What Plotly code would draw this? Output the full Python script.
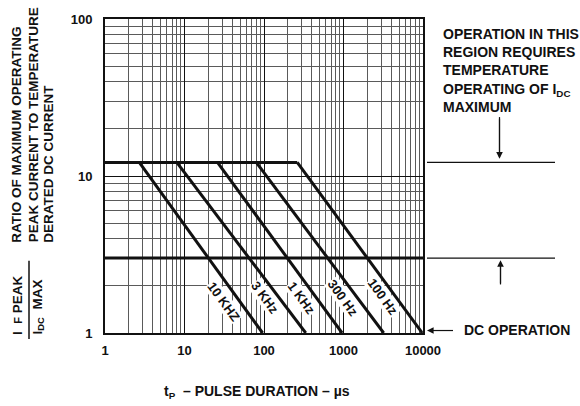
import numpy as np
import plotly.graph_objects as go

# ---------------- data ----------------
x_tick_vals = [1, 10, 100, 1000, 10000]
x_tick_text = ["1", "10", "100", "1000", "10000"]
y_tick_vals = [1, 10, 100]
y_tick_text = ["1", "10", "100"]

freq_labels = ["10 KHZ", "3 KHz", "1 KHz", "300 Hz", "100 Hz"]
curve_start_tp = [2.7, 8.0, 26, 80, 262]      # µs, where each curve leaves the peak limit
curve_end_tp = [96, 335, 960, 3200, 9800]     # µs, where each curve reaches ratio 1
peak_ratio_limit = 12.2
dc_ratio_limit = 3.0
curve_end_ratio = 1.0
tp_min = 1
tp_max = 10000

# label anchor points along each curve (data units)
label_tp = [30.8, 103, 298, 995, 3170]
label_ratio = [1.58, 1.69, 1.66, 1.66, 1.69]

# ---------------- layout helpers ----------------
L, R, T, B = 105, 423, 16, 333
W, H = 580, 406


def px_x(p):
    return (p - L) / (R - L)


def px_y(p):
    return (B - p) / (B - T)


FONT = "Liberation Sans, Arial, Helvetica, sans-serif"
BLACK = "#111111"

fig = go.Figure()

# plateau (peak limit)
fig.add_trace(go.Scatter(x=[tp_min, curve_start_tp[-1]], y=[peak_ratio_limit, peak_ratio_limit],
                         mode="lines", line=dict(color=BLACK, width=3), hoverinfo="skip"))
# DC derating limit
fig.add_trace(go.Scatter(x=[tp_min, tp_max], y=[dc_ratio_limit, dc_ratio_limit],
                         mode="lines", line=dict(color=BLACK, width=3), hoverinfo="skip"))
# frequency curves
for name, xs, xe in zip(freq_labels, curve_start_tp, curve_end_tp):
    fig.add_trace(go.Scatter(x=[xs, xe], y=[peak_ratio_limit, curve_end_ratio], name=name,
                             mode="lines", line=dict(color=BLACK, width=3), hoverinfo="skip"))

minor_x = [m * 10 ** d for d in range(4) for m in range(2, 10)]
minor_y = [m * 10 ** d for d in range(2) for m in range(2, 10)]

annotations = []
# curve labels
for name, tx, ty in zip(freq_labels, label_tp, label_ratio):
    annotations.append(dict(x=np.log10(tx), y=np.log10(ty), xref="x", yref="y", text=name,
                            showarrow=False, textangle=54, bgcolor="white", borderpad=0,
                            font=dict(family=FONT, size=13, color=BLACK, weight="bold")))

tfont = dict(family=FONT, size=14, color=BLACK, weight="bold")
yfont = dict(family=FONT, size=13.5, color=BLACK, weight="bold")

# y-axis title (three rotated lines)
for txt, cx in [("RATIO OF MAXIMUM OPERATING", 17), ("PEAK CURRENT TO TEMPERATURE", 33),
                ("DERATED DC CURRENT", 49)]:
    annotations.append(dict(x=px_x(cx), y=px_y(244), xref="paper", yref="paper", text=txt,
                            showarrow=False, textangle=-90, xanchor="center", yanchor="bottom",
                            font=yfont))
# fraction
annotations.append(dict(x=px_x(18), y=px_y(337), xref="paper", yref="paper",
                        text="I&nbsp;&nbsp;<span style='font-size:11px'>F</span> PEAK",
                        showarrow=False, textangle=-90,
                        xanchor="center", yanchor="bottom", font=yfont))
annotations.append(dict(x=px_x(38), y=px_y(337), xref="paper", yref="paper",
                        text="I<sub>DC</sub>&nbsp;&nbsp;MAX", showarrow=False, textangle=-90,
                        xanchor="center", yanchor="bottom", font=yfont))

# x-axis title
annotations.append(dict(x=px_x(257), y=px_y(393), xref="paper", yref="paper",
                        text="t<sub>P</sub>  – PULSE DURATION – µs", showarrow=False,
                        xanchor="center", yanchor="middle", font=tfont))

# right-side notes
annotations.append(dict(x=px_x(441), y=px_y(21), xref="paper", yref="paper", align="left",
                        text="OPERATION IN THIS<br>REGION REQUIRES<br>TEMPERATURE<br>"
                             "OPERATING OF I<sub>DC</sub><br>MAXIMUM",
                        showarrow=False, xanchor="left", yanchor="top", font=tfont))
annotations.append(dict(x=px_x(462), y=px_y(330), xref="paper", yref="paper",
                        text="DC OPERATION", showarrow=False, xanchor="left", yanchor="middle",
                        font=tfont))

# arrow heads (shafts drawn as shapes below)
arrow_style = dict(text="", showarrow=True, arrowhead=2, arrowsize=1.1, arrowwidth=1.2,
                   arrowcolor=BLACK, standoff=0, xref="paper", yref="paper",
                   width=1, height=1, font=dict(size=1))
annotations.append(dict(x=px_x(499.5), y=px_y(157), ax=0, ay=-42, **arrow_style))
annotations.append(dict(x=px_x(500.5), y=px_y(259.5), ax=0, ay=25, **arrow_style))
annotations.append(dict(x=px_x(427), y=px_y(330.5), ax=26, ay=0, **arrow_style))

shapes = [
    dict(type="line", xref="paper", yref="y", x0=px_x(427), x1=px_x(555),
         y0=peak_ratio_limit, y1=peak_ratio_limit, line=dict(color=BLACK, width=1.2)),
    dict(type="line", xref="paper", yref="y", x0=px_x(427), x1=px_x(555),
         y0=dc_ratio_limit, y1=dc_ratio_limit, line=dict(color=BLACK, width=1.2)),
    dict(type="line", xref="paper", yref="paper", x0=px_x(29), x1=px_x(29),
         y0=px_y(260), y1=px_y(339), line=dict(color=BLACK, width=1.5)),
    # arrow shafts
    dict(type="line", xref="paper", yref="paper", x0=px_x(499.5), x1=px_x(499.5),
         y0=px_y(115), y1=px_y(150), line=dict(color=BLACK, width=1.2)),
    dict(type="line", xref="paper", yref="paper", x0=px_x(500.5), x1=px_x(500.5),
         y0=px_y(284), y1=px_y(266), line=dict(color=BLACK, width=1.2)),
    dict(type="line", xref="paper", yref="paper", x0=px_x(453), x1=px_x(434),
         y0=px_y(330.5), y1=px_y(330.5), line=dict(color=BLACK, width=1.2)),
]

fig.update_layout(
    width=W, height=H,
    margin=dict(l=L, r=W - R, t=T, b=H - B, pad=0),
    paper_bgcolor="white", plot_bgcolor="white",
    showlegend=False,
    annotations=annotations,
    shapes=shapes,
    xaxis=dict(type="log", range=[0, 4], tickmode="array", tickvals=x_tick_vals,
               ticktext=x_tick_text, showgrid=True, gridcolor=BLACK, gridwidth=1,
               minor=dict(tickmode="array", tickvals=minor_x, showgrid=True,
                          gridcolor="#5a5a5a", gridwidth=1, ticks=""),
               showline=True, linecolor=BLACK, linewidth=2, mirror=True, ticks="",
               zeroline=False, ticklabelstandoff=4,
               tickfont=dict(family=FONT, size=13, color=BLACK, weight="bold")),
    yaxis=dict(type="log", range=[0, 2], tickmode="array", tickvals=y_tick_vals,
               ticktext=y_tick_text, showgrid=True, gridcolor=BLACK, gridwidth=1,
               minor=dict(tickmode="array", tickvals=minor_y, showgrid=True,
                          gridcolor="#5a5a5a", gridwidth=1, ticks=""),
               showline=True, linecolor=BLACK, linewidth=2, mirror=True, ticks="",
               zeroline=False, ticklabelstandoff=8,
               tickfont=dict(family=FONT, size=13, color=BLACK, weight="bold")),
)

fig.write_html("out.html", config={"displayModeBar": False},
               post_script="document.body.style.margin='0';document.body.style.padding='0';"
                           "document.documentElement.style.margin='0';")
